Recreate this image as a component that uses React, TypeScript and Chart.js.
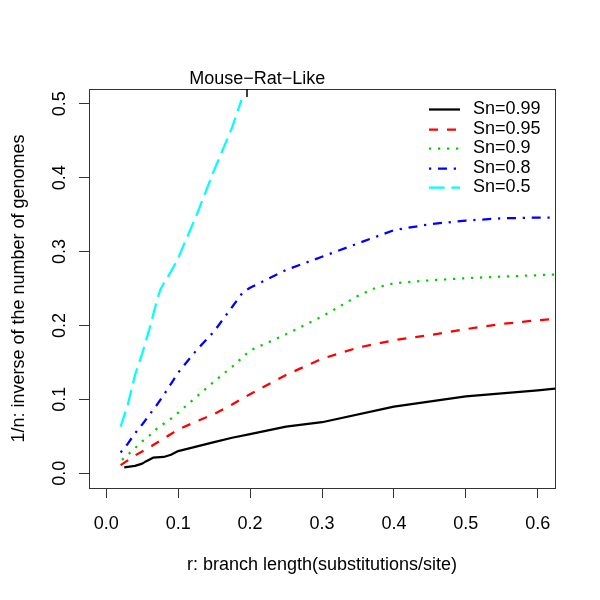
import React, { useEffect, useRef } from "react";
import { Chart, registerables } from "chart.js";

Chart.register(...registerables);

const FONT = '"Liberation Sans", Arial, Helvetica, sans-serif';

// ---- data ----
const seriesLabels = ["Sn=0.99", "Sn=0.95", "Sn=0.9", "Sn=0.8", "Sn=0.5"];
const seriesColors = ["#000000", "#FF0000", "#00CD00", "#0000FF", "#00FFFF"];

const x99 = [0.025, 0.04, 0.05, 0.055, 0.065, 0.08, 0.09, 0.1, 0.125, 0.15, 0.175, 0.2, 0.25, 0.3, 0.4, 0.5, 0.6, 0.625];
const y99 = [0.008, 0.01, 0.013, 0.016, 0.021, 0.022, 0.025, 0.03, 0.036, 0.042, 0.048, 0.053, 0.063, 0.069, 0.09, 0.104, 0.112, 0.1145];

const x95 = [0.02, 0.04, 0.06, 0.08, 0.1, 0.125, 0.15, 0.175, 0.2, 0.25, 0.3, 0.35, 0.4, 0.45, 0.5, 0.55, 0.6, 0.625];
const y95 = [0.011, 0.024, 0.035, 0.047, 0.059, 0.07, 0.08, 0.093, 0.107, 0.133, 0.155, 0.17, 0.18, 0.187, 0.195, 0.202, 0.207, 0.209];

const x90 = [0.022, 0.03, 0.04, 0.05, 0.06, 0.07, 0.08, 0.09, 0.1, 0.125, 0.15, 0.175, 0.2, 0.25, 0.3, 0.35, 0.375, 0.4, 0.45, 0.5, 0.55, 0.6, 0.625];
const y90 = [0.018, 0.025, 0.034, 0.043, 0.051, 0.06, 0.067, 0.074, 0.082, 0.103, 0.124, 0.144, 0.166, 0.188, 0.212, 0.24, 0.251, 0.257, 0.261, 0.264, 0.266, 0.268, 0.269];

const x80 = [0.02, 0.03, 0.04, 0.05, 0.06, 0.07, 0.08, 0.09, 0.1, 0.125, 0.15, 0.175, 0.19, 0.2, 0.25, 0.3, 0.35, 0.4, 0.45, 0.5, 0.55, 0.6, 0.625];
const y80 = [0.028, 0.04, 0.054, 0.066, 0.079, 0.092, 0.106, 0.121, 0.136, 0.166, 0.192, 0.225, 0.245, 0.251, 0.275, 0.293, 0.311, 0.329, 0.337, 0.342, 0.345, 0.346, 0.346];

const x50 = [0.02, 0.025, 0.03, 0.035, 0.04, 0.05, 0.06, 0.07, 0.075, 0.08, 0.09, 0.1, 0.11, 0.125, 0.15, 0.175, 0.188];
const y50 = [0.063, 0.078, 0.093, 0.113, 0.133, 0.162, 0.195, 0.232, 0.248, 0.257, 0.273, 0.291, 0.314, 0.348, 0.41, 0.468, 0.505];

const xTicks = [0, 0.1, 0.2, 0.3, 0.4, 0.5, 0.6];
const yTicks = [0, 0.1, 0.2, 0.3, 0.4, 0.5];

const markTickX = 0.196;
const markLabelX = 0.21;
const markLabel = "Mouse\u2212Rat\u2212Like";
const xTitle = "r: branch length(substitutions/site)";
const yTitle = "1/n: inverse of the number of genomes";

const xRange = [-0.024, 0.624];
const yRange = [-0.02, 0.52];

const LW = 2.25;
const dashes: number[][] = [
  [],
  [9, 9],
  [2.25, 6.75],
  [2.25, 6.75, 9, 6.75],
  [15.75, 6.75],
];

const seriesX = [x99, x95, x90, x80, x50];
const seriesY = [y99, y95, y90, y80, y50];

const framePlugin = {
  id: "rFrame",
  afterDatasetsDraw(chart: any) {
    const { ctx, chartArea: a, scales } = chart;
    ctx.save();
    ctx.strokeStyle = "#333";
    ctx.lineWidth = 1;
    ctx.setLineDash([]);
    ctx.strokeRect(a.left + 0.5, a.top + 0.5, a.right - a.left, a.bottom - a.top);
    const px = Math.round(scales.x.getPixelForValue(markTickX));
    ctx.strokeStyle = "#000";
    ctx.lineWidth = 1.5;
    ctx.beginPath();
    ctx.moveTo(px, a.top);
    ctx.lineTo(px, a.top + 8);
    ctx.stroke();
    ctx.restore();
  },
};

const legendPlugin = {
  id: "rLegend",
  afterDatasetsDraw(chart: any) {
    const { ctx, chartArea: a } = chart;
    const ds = chart.data.datasets;
    ctx.save();
    ctx.font = `18px ${FONT}`;
    ctx.textBaseline = "middle";
    ctx.textAlign = "left";
    ds.forEach((d: any, i: number) => {
      const y = Math.round(a.top + 20 + i * 19.6) + 0.5;
      const x0 = a.right - 126;
      ctx.beginPath();
      ctx.setLineDash(d.borderDash || []);
      ctx.lineWidth = d.borderWidth;
      ctx.strokeStyle = d.borderColor;
      ctx.lineCap = "butt";
      ctx.moveTo(x0, y);
      ctx.lineTo(x0 + 31, y);
      ctx.stroke();
      ctx.setLineDash([]);
      ctx.fillStyle = "#000";
      ctx.fillText(d.label, x0 + 44, y);
    });
    ctx.restore();
  },
};

export default function App() {
  const ref = useRef<HTMLCanvasElement | null>(null);

  useEffect(() => {
    if (!ref.current) return;
    const font = { family: FONT, size: 18 };
    const datasets = seriesLabels.map((label, i) => ({
      label,
      data: seriesX[i].map((x, j) => ({ x, y: seriesY[i][j] })),
      borderColor: seriesColors[i],
      backgroundColor: seriesColors[i],
      borderWidth: LW,
      borderDash: dashes[i],
      borderCapStyle: "butt",
      borderJoinStyle: "round",
      pointRadius: 0,
      pointHoverRadius: 0,
      tension: 0,
      fill: false,
      xAxisID: "x",
      yAxisID: "y",
    }));

    const chart = new Chart(ref.current, {
      type: "line",
      data: { datasets } as any,
      options: {
        responsive: false,
        animation: false,
        devicePixelRatio: 1,
        layout: { padding: { left: 0, top: 0, right: 45, bottom: 0 } },
        plugins: {
          legend: { display: false },
          tooltip: { enabled: false },
        },
        scales: {
          x: {
            type: "linear",
            position: "bottom",
            min: xRange[0],
            max: xRange[1],
            afterBuildTicks: (s: any) => {
              s.ticks = xTicks.map((v) => ({ value: v }));
            },
            afterFit: (s: any) => {
              s.height = 112;
            },
            ticks: {
              callback: (v: any) => Number(v).toFixed(1),
              font,
              color: "#000",
              padding: 15,
              maxRotation: 0,
              minRotation: 0,
              autoSkip: false,
            },
            grid: { drawOnChartArea: false, drawTicks: true, tickLength: 10, color: "#333", lineWidth: 1 },
            border: { display: false },
            title: { display: true, text: xTitle, font, color: "#000", padding: { top: 0, bottom: 24 } },
          },
          x2: {
            type: "linear",
            position: "top",
            min: xRange[0],
            max: xRange[1],
            afterBuildTicks: (s: any) => {
              s.ticks = [{ value: markLabelX }];
            },
            afterFit: (s: any) => {
              s.height = 89;
            },
            ticks: {
              callback: () => markLabel,
              font,
              color: "#000",
              padding: -1,
              maxRotation: 0,
              minRotation: 0,
              autoSkip: false,
            },
            grid: { display: false, drawTicks: false },
            border: { display: false },
          },
          y: {
            type: "linear",
            position: "left",
            min: yRange[0],
            max: yRange[1],
            afterBuildTicks: (s: any) => {
              s.ticks = yTicks.map((v) => ({ value: v }));
            },
            afterFit: (s: any) => {
              s.width = 89;
            },
            ticks: {
              callback: (v: any) => Number(v).toFixed(1),
              font,
              color: "#000",
              padding: 6,
              minRotation: 90,
              maxRotation: 90,
              crossAlign: "center",
              autoSkip: false,
            },
            grid: { drawOnChartArea: false, drawTicks: true, tickLength: 10, color: "#333", lineWidth: 1 },
            border: { display: false },
            title: { display: true, text: yTitle, font, color: "#000", padding: { top: 8, bottom: 0 } },
          },
        },
      } as any,
      plugins: [framePlugin, legendPlugin],
    });
    return () => chart.destroy();
  }, []);

  return (
    <div style={{ position: "absolute", left: 0, top: 0, width: 600, height: 600, background: "#fff" }}>
      <canvas ref={ref} width={600} height={600} style={{ width: 600, height: 600, display: "block" }} />
    </div>
  );
}
